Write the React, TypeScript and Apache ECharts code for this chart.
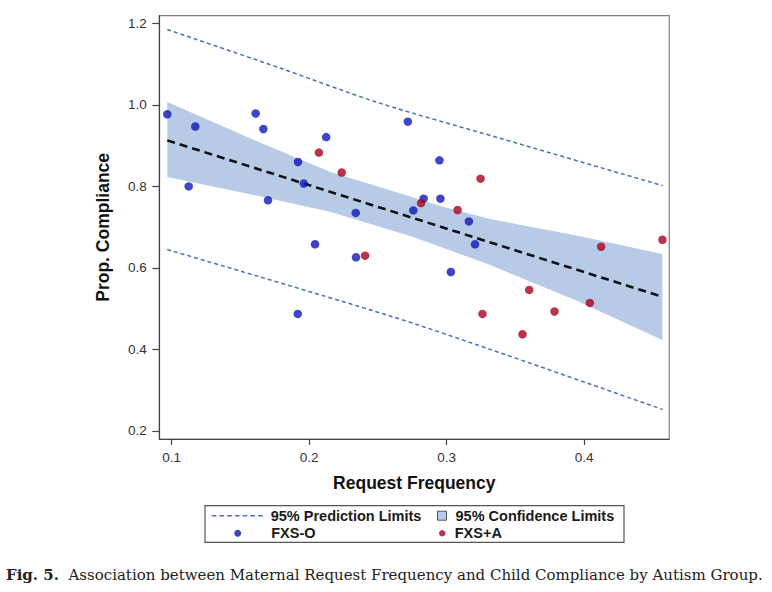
import React, { useEffect, useRef } from 'react';
import * as echarts from 'echarts';

// Tick values
const xTicks = [0.1, 0.2, 0.3, 0.4];
const yTicks = [0.2, 0.4, 0.6, 0.8, 1.0, 1.2];

// FXS-O observations [request frequency, proportion compliance]
const fxsO = [
  [0.0968, 0.977], [0.1172, 0.947], [0.1124, 0.800], [0.1611, 0.979],
  [0.1667, 0.941], [0.1701, 0.766], [0.1919, 0.860], [0.1961, 0.807],
  [0.2124, 0.921], [0.2043, 0.658], [0.1917, 0.487], [0.2339, 0.735],
  [0.2341, 0.626], [0.2718, 0.959], [0.2948, 0.864], [0.2955, 0.770],
  [0.2833, 0.770], [0.2758, 0.741], [0.3162, 0.714], [0.3207, 0.658],
  [0.3031, 0.590],
];

// FXS+A observations
const fxsA = [
  [0.2071, 0.883], [0.2237, 0.834], [0.2407, 0.630], [0.2814, 0.759],
  [0.3080, 0.742], [0.3247, 0.819], [0.3261, 0.487], [0.3601, 0.546],
  [0.3552, 0.437], [0.3785, 0.493], [0.4042, 0.514], [0.4124, 0.652],
  [0.4570, 0.669],
];

// Fitted regression line
const fitLine = [[0.0968, 0.913], [0.457, 0.529]];

// 95% confidence band
const ciX = [0.0968, 0.157, 0.2151, 0.2735, 0.2953, 0.3317, 0.3935, 0.457];
const ciLower = [0.823, 0.781, 0.738, 0.678, 0.652, 0.607, 0.521, 0.423];
const ciUpper = [1.007, 0.918, 0.836, 0.775, 0.752, 0.720, 0.680, 0.634];

// 95% prediction limits
const predUpper = [[0.0968, 1.185], [0.1776, 1.092], [0.2499, 1.006], [0.339, 0.918], [0.457, 0.802]];
const predLower = [[0.0968, 0.645], [0.2589, 0.482], [0.3317, 0.400], [0.457, 0.2526]];

const SANS = '"Liberation Sans", Arial, Helvetica, sans-serif';
const SERIF = '"DejaVu Serif", "Liberation Serif", serif';
const BAND = '#b7cbe6';
const PRED = '#4673b4';
const BLUE = '#0c18b8';
const RED = '#aa0020';

// dashed-line legend glyph: 7 short dashes
const DASH_ICON =
  'path://M0,0h4.5v1.4h-4.5zM7.75,0h4.5v1.4h-4.5zM15.5,0h4.5v1.4h-4.5zM23.25,0h4.5v1.4h-4.5z' +
  'M31,0h4.5v1.4h-4.5zM38.75,0h4.5v1.4h-4.5zM46.5,0h4.5v1.4h-4.5z';

export default function App() {
  const ref = useRef<HTMLDivElement>(null);

  useEffect(() => {
    if (!ref.current) return;
    const chart = echarts.init(ref.current, null, { renderer: 'svg' });

    const legendText = {
      fontFamily: SANS,
      fontSize: 14.5,
      fontWeight: 'bold',
      color: '#1a1a1a',
      lineHeight: 17,
    };

    const option: any = {
      animation: false,
      backgroundColor: '#ffffff',
      grid: {
        left: 159.3,
        top: 15.7,
        right: 102.7,
        bottom: 153,
        show: true,
        borderColor: '#808080',
        borderWidth: 1.2,
        backgroundColor: 'transparent',
      },
      xAxis: {
        type: 'value',
        min: 0.091,
        max: 0.462,
        name: 'Request Frequency',
        nameLocation: 'middle',
        nameGap: 35,
        nameTextStyle: { fontFamily: SANS, fontSize: 17.5, fontWeight: 'bold', color: '#111' },
        axisLine: { show: true, onZero: false, lineStyle: { color: '#444', width: 1.2 } },
        axisTick: { show: true, length: 6, customValues: xTicks, lineStyle: { color: '#444', width: 1.2 } },
        axisLabel: {
          customValues: xTicks,
          formatter: (v: number) => v.toFixed(1),
          margin: 11.5,
          fontFamily: SANS,
          fontSize: 13.5,
          color: '#333',
        },
        splitLine: { show: false },
      },
      yAxis: {
        type: 'value',
        min: 0.18,
        max: 1.219,
        name: 'Prop. Compliance',
        nameLocation: 'middle',
        nameGap: 47,
        nameTextStyle: { fontFamily: SANS, fontSize: 17.5, fontWeight: 'bold', color: '#111' },
        axisLine: { show: true, onZero: false, lineStyle: { color: '#444', width: 1.2 } },
        axisTick: { show: true, length: 7, customValues: yTicks, lineStyle: { color: '#444', width: 1.2 } },
        axisLabel: {
          customValues: yTicks,
          formatter: (v: number) => v.toFixed(1),
          margin: 12.6,
          fontFamily: SANS,
          fontSize: 13.5,
          color: '#333',
        },
        splitLine: { show: false },
      },
      legend: [
        {
          data: [{ name: '95% Prediction Limits', icon: DASH_ICON, itemStyle: { color: PRED } }],
          left: 211.7, top: 507.2, padding: 0, itemWidth: 51, itemHeight: 8,
          selectedMode: false,
          textStyle: { ...legendText, padding: [0, 0, 0, 3] },
        },
        {
          data: [{ name: 'FXS-O', icon: 'circle' }],
          left: 234.2, top: 524.8, padding: 0, itemWidth: 51, itemHeight: 7,
          selectedMode: false,
          textStyle: { ...legendText, padding: [0, 0, 0, 3] },
        },
        {
          data: [{ name: '95% Confidence Limits', icon: 'rect', itemStyle: { color: BAND, borderColor: '#555', borderWidth: 1 } }],
          left: 437, top: 507.2, padding: 0, itemWidth: 9, itemHeight: 9,
          selectedMode: false,
          textStyle: { ...legendText, padding: [0, 0, 0, 4] },
        },
        {
          data: [{ name: 'FXS+A', icon: 'circle' }],
          left: 439, top: 524.8, padding: 0, itemWidth: 11, itemHeight: 6.5,
          selectedMode: false,
          textStyle: { ...legendText, padding: [0, 0, 0, 2] },
        },
      ],
      graphic: [
        {
          type: 'rect',
          shape: { x: 205, y: 505.7, width: 419, height: 36.6 },
          style: { fill: 'none', stroke: '#555', lineWidth: 1.2 },
          silent: true,
        },
        {
          type: 'text',
          x: 6,
          y: 575,
          style: {
            text: '{b|Fig. 5.}  Association between Maternal Request Frequency and Child Compliance by Autism Group.',
            fontFamily: SERIF,
            fontSize: 15,
            fill: '#222',
            verticalAlign: 'middle',
            rich: {
              b: { fontFamily: SERIF, fontSize: 15, fontWeight: 'bold', fill: '#222' },
            },
          },
          silent: true,
        },
      ],
      series: [
        {
          type: 'custom',
          name: '95% Confidence Limits',
          coordinateSystem: 'cartesian2d',
          silent: true,
          z: 1,
          itemStyle: { color: BAND },
          data: [[ciX[0], ciLower[0]]],
          renderItem: (_params: any, api: any) => {
            const pts: number[][] = [];
            for (let i = 0; i < ciX.length; i++) pts.push(api.coord([ciX[i], ciUpper[i]]));
            for (let i = ciX.length - 1; i >= 0; i--) pts.push(api.coord([ciX[i], ciLower[i]]));
            return { type: 'polygon', shape: { points: pts }, style: { fill: BAND } };
          },
        },
        {
          type: 'line',
          name: '95% Prediction Limits',
          data: predUpper,
          symbol: 'none',
          smooth: 0.3,
          silent: true,
          z: 2,
          itemStyle: { color: PRED },
          lineStyle: { color: PRED, width: 1.5, type: [4, 3] },
        },
        {
          type: 'line',
          name: '95% Prediction Limits',
          data: predLower,
          symbol: 'none',
          smooth: 0.3,
          silent: true,
          z: 2,
          itemStyle: { color: PRED },
          lineStyle: { color: PRED, width: 1.5, type: [4, 3] },
        },
        {
          type: 'line',
          name: 'Fit',
          data: fitLine,
          symbol: 'none',
          silent: true,
          z: 3,
          lineStyle: { color: '#111', width: 2.6, type: [8, 5] },
        },
        {
          type: 'scatter',
          name: 'FXS-O',
          data: fxsO,
          symbol: 'circle',
          symbolSize: 8.5,
          z: 4,
          itemStyle: { color: BLUE },
        },
        {
          type: 'scatter',
          name: 'FXS+A',
          data: fxsA,
          symbol: 'circle',
          symbolSize: 8.5,
          z: 4,
          itemStyle: { color: RED },
        },
      ],
    };

    chart.setOption(option);
    return () => chart.dispose();
  }, []);

  return (
    <div
      ref={ref}
      style={{ position: 'fixed', left: 0, top: 0, width: 772, height: 592, background: '#fff' }}
    />
  );
}
